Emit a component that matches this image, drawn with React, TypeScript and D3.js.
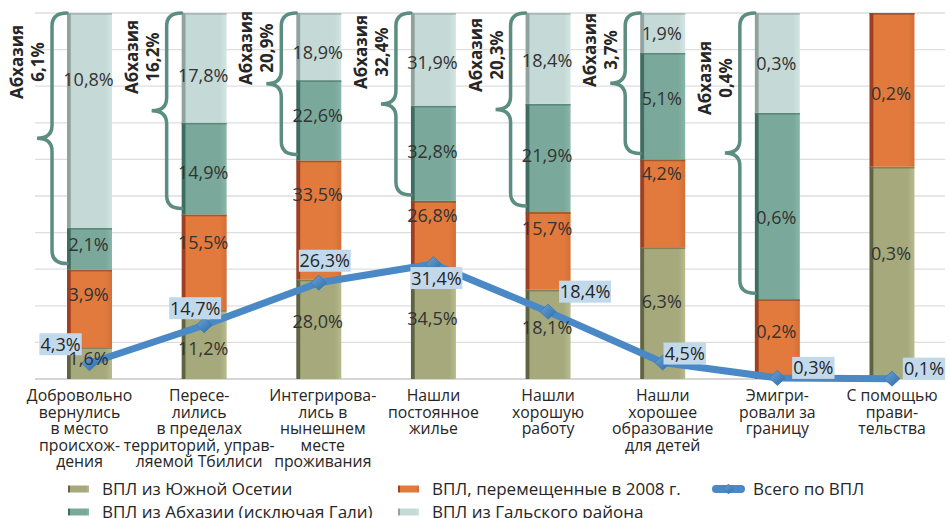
import React from "react";
import * as d3 from "d3";

// ---------- DATA ----------
const categories = [
  "Добровольно\nвернулись\nв место\nпроисхож-\nдения",
  "Пересе-\nлились\nв пределах\nтерриторий, управ-\nляемой Тбилиси",
  "Интегрирова-\nлись в\nнынешнем\nместе\nпроживания",
  "Нашли\nпостоянное\nжилье",
  "Нашли\nхорошую\nработу",
  "Нашли\nхорошее\nобразование\nдля детей",
  "Эмигри-\nровали за\nграницу",
  "С помощью\nправи-\nтельства",
];
const seriesNames = [
  "ВПЛ из Южной Осетии",
  "ВПЛ, перемещенные в 2008 г.",
  "ВПЛ из Абхазии (исключая Гали)",
  "ВПЛ из Гальского района",
];
const lineName = "Всего по ВПЛ";
const southOssetia = [1.6, 11.2, 28.0, 34.5, 18.1, 6.3, 0, 0.29];
const displaced2008 = [3.9, 15.5, 33.5, 26.8, 15.7, 4.2, 0.24, 0.21];
const abkhazia = [2.1, 14.9, 22.6, 32.8, 21.9, 5.1, 0.56, 0];
const gali = [10.8, 17.8, 18.9, 31.9, 18.4, 1.9, 0.3, 0];
const totalIDP = [4.3, 14.7, 26.3, 31.4, 18.4, 4.5, 0.3, 0.1];
const abkhaziaTotal = [6.1, 16.2, 20.9, 32.4, 20.3, 3.7, 0.4];
const abkhaziaWord = "Абхазия";
const yTicks = [0, 10, 20, 30, 40, 50, 60, 70, 80, 90, 100];

// ---------- STYLE / LAYOUT ----------
const W = 950;
const H = 518;
const FONT = "'Open Sans', 'DejaVu Sans', sans-serif";
const seriesStyle = [
  { dark: "#5f6342", base: "#a5a97b", light: "#b7bb8f", sep: "#6f7350" },
  { dark: "#9c3f22", base: "#e17a3c", light: "#d36f37", sep: "#8a4a2a" },
  { dark: "#3f6c60", base: "#7aa99b", light: "#88b6a8", sep: "#4f7a6d" },
  { dark: "#8fa29e", base: "#c5d9d6", light: "#d4e6e3", sep: "#9aabab" },
];
// label vertical nudges (px) per series, per category
const segLabelDy = [
  [-5, 4, -8, -10, -7, -12, 0, -19],
  [-14, -20, -25, -24, -22, -30, -8, 4],
  [-4, 4, -5, -2, -2, -8, 12, 0],
  [-41, 8, 6, 3, 2, 1, 1, 0],
];
const lineLabelOffset = [
  [-29, -19], [-9, -17], [6, -22], [3, 14], [37, -20], [22, -9], [36, -10], [32, -10],
];
const abkhLabelY = [62, 57, 48, 52, 55, 50, 78];
const catLabelDx = [-10, -5, 4, 0, 0, 0, 0, 0];

const fmt = (v: number) => d3.format(".1f")(v).replace(".", ",") + "%";

export default function App() {
  const top = 13;
  const bottom = 379;
  const x = d3
    .scaleBand<number>()
    .domain(d3.range(categories.length))
    .range([32.2, 949.3])
    .paddingInner(0.6075)
    .paddingOuter(0.30375);
  const y = d3.scaleLinear().domain([0, 100]).range([bottom, top]);
  const bw = x.bandwidth();

  const rows = categories.map((_, i) => ({
    i,
    s0: southOssetia[i],
    s1: displaced2008[i],
    s2: abkhazia[i],
    s3: gali[i],
  }));
  const stack = d3
    .stack<any>()
    .keys(["s0", "s1", "s2", "s3"])
    .offset(d3.stackOffsetExpand);
  const stacked = stack(rows);

  const line = d3
    .line<number>()
    .x((_, i) => (x(i) as number) + bw / 2)
    .y((d) => y(d));

  const seriesVals = [southOssetia, displaced2008, abkhazia, gali];

  const diamond = (cx: number, cy: number, hw = 8, hh = 7.5) =>
    `M${cx},${cy - hh}L${cx + hw},${cy}L${cx},${cy + hh}L${cx - hw},${cy}Z`;

  const brace = (left: number, yTop: number, yBot: number) => {
    const xv = left - 15;
    const xt = left - 30;
    const r = 13;
    const ym = (yTop + yBot) / 2;
    return (
      `M${left},${yTop}` +
      `Q${xv},${yTop} ${xv},${yTop + r}` +
      `L${xv},${ym - r}` +
      `Q${xv},${ym} ${xt},${ym}` +
      `Q${xv},${ym} ${xv},${ym + r}` +
      `L${xv},${yBot - r}` +
      `Q${xv},${yBot} ${left},${yBot}`
    );
  };

  return (
    <svg
      width={W}
      height={H}
      style={{ position: "absolute", left: 0, top: 0, background: "#fff" }}
      fontFamily={FONT}
    >
      <defs>
        {seriesStyle.map((s, k) => (
          <linearGradient key={k} id={`g${k}`} x1="0" x2="1" y1="0" y2="0">
            <stop offset="0" stopColor={s.dark} />
            <stop offset="0.07" stopColor={s.dark} />
            <stop offset="0.1" stopColor={s.base} />
            <stop offset="0.85" stopColor={s.base} />
            <stop offset="1" stopColor={s.light} />
          </linearGradient>
        ))}
        <linearGradient id="gd" x1="0" x2="1" y1="0" y2="1">
          <stop offset="0" stopColor="#6aa3d6" />
          <stop offset="1" stopColor="#2f6ea8" />
        </linearGradient>
      </defs>

      {/* gridlines */}
      {yTicks.map((t) => (
        <line
          key={t}
          x1={35}
          x2={945}
          y1={y(t)}
          y2={y(t)}
          stroke={t === 0 ? "#c8c8c8" : "#dedede"}
          strokeWidth={1.3}
        />
      ))}

      {/* bars */}
      {stacked.map((layer, k) => (
        <g key={k}>
          {layer.map((d, i) => {
            const v = seriesVals[k][i];
            if (!v) return null;
            const y0 = y(d[0] * 100);
            const y1 = y(d[1] * 100);
            const x0 = x(i) as number;
            return (
              <g key={i}>
                <rect x={x0} y={y1} width={bw} height={y0 - y1} fill={`url(#g${k})`} />
                <rect x={x0} y={y1} width={bw} height={1.8} fill={seriesStyle[k].sep} opacity={0.7} />
              </g>
            );
          })}
        </g>
      ))}

      {/* braces and Abkhazia annotations */}
      {abkhaziaTotal.map((v, i) => {
        const left = x(i) as number;
        const tealBottom = y(stacked[2][i][0] * 100);
        const yTop = y(stacked[3][i][1] * 100);
        const cx = left - 40;
        const cy = abkhLabelY[i];
        return (
          <g key={i}>
            <path
              d={brace(left, yTop, tealBottom - 6)}
              fill="none"
              stroke="#5b8d80"
              strokeWidth={3.5}
              strokeLinecap="round"
            />
            <g transform={`translate(${cx},${cy}) rotate(-90)`}>
              <text
                y={-10.5}
                textAnchor="middle"
                dominantBaseline="central"
                fontSize={17}
                fontWeight="bold"
                fill="#262626"
              >
                {abkhaziaWord}
              </text>
              <text
                y={10.5}
                textAnchor="middle"
                dominantBaseline="central"
                fontSize={17}
                fontWeight="bold"
                fill="#262626"
              >
                {fmt(v)}
              </text>
            </g>
          </g>
        );
      })}

      {/* line */}
      <path
        d={line(totalIDP) || ""}
        fill="none"
        stroke="#4a89c5"
        strokeWidth={7}
        strokeLinejoin="round"
      />
      {totalIDP.map((v, i) => (
        <path
          key={i}
          d={diamond((x(i) as number) + bw / 2, y(v))}
          fill="url(#gd)"
          stroke="#3a78b3"
          strokeWidth={0.8}
        />
      ))}

      {/* line labels */}
      {totalIDP.map((v, i) => {
        const cx = (x(i) as number) + bw / 2 + lineLabelOffset[i][0];
        const cy = y(v) + lineLabelOffset[i][1];
        const label = fmt(v);
        const w = label.length * 9.6 + 4;
        return (
          <g key={i}>
            <rect x={cx - w / 2} y={cy - 11} width={w} height={22} fill="#c2d9eb" />
            <text
              x={cx}
              y={cy}
              dy="0.36em"
              textAnchor="middle"
              fontSize={18}
              fill="#262626"
            >
              {label}
            </text>
          </g>
        );
      })}

      {/* segment labels */}
      {stacked.map((layer, k) =>
        layer.map((d, i) => {
          const v = seriesVals[k][i];
          if (!v) return null;
          const cy = (y(d[0] * 100) + y(d[1] * 100)) / 2 + segLabelDy[k][i];
          return (
            <text
              key={`${k}-${i}`}
              x={(x(i) as number) + bw / 2 - 1}
              y={cy}
              dy="0.36em"
              textAnchor="middle"
              fontSize={18}
              fill="#333"
            >
              {fmt(v)}
            </text>
          );
        })
      )}

      {/* category labels */}
      {categories.map((c, i) => {
        const cx = (x(i) as number) + bw / 2 + catLabelDx[i];
        return (
          <text key={i} x={cx} y={401} textAnchor="middle" fontSize={15.8} fill="#262626">
            {c.split("\n").map((ln, j) => (
              <tspan key={j} x={cx} dy={j === 0 ? 0 : 16.5}>
                {ln}
              </tspan>
            ))}
          </text>
        );
      })}

      {/* legend */}
      {[
        { k: 0, lx: 68, ly: 489 },
        { k: 1, lx: 398, ly: 489 },
        { k: 2, lx: 68, ly: 512 },
        { k: 3, lx: 398, ly: 512 },
      ].map(({ k, lx, ly }) => (
        <g key={k}>
          <rect x={lx} y={ly - 3.5} width={21} height={7} fill={`url(#g${k})`} />
          <text x={lx + 34} y={ly} dy="0.36em" fontSize={17} fill="#262626">
            {seriesNames[k]}
          </text>
        </g>
      ))}
      <g>
        <line x1={716} x2={741} y1={489} y2={489} stroke="#4a89c5" strokeWidth={8} strokeLinecap="round" />
        <path d={diamond(728.5, 489, 5, 5)} fill="url(#gd)" stroke="#3a78b3" strokeWidth={0.6} />
        <text x={753} y={489} dy="0.36em" fontSize={17} fill="#262626">
          {lineName}
        </text>
      </g>
    </svg>
  );
}
